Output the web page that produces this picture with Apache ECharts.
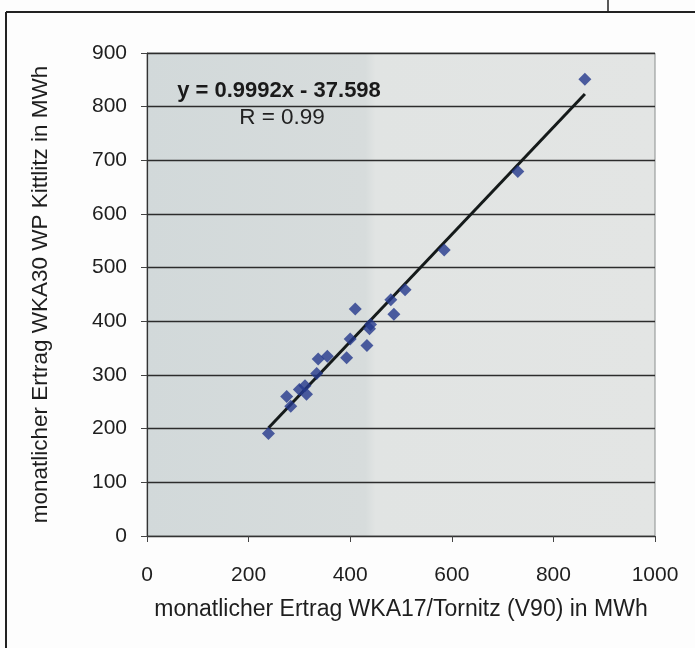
<!DOCTYPE html>
<html>
<head>
<meta charset="utf-8">
<script src="https://cdn.jsdelivr.net/npm/echarts@6/dist/echarts.min.js"></script>
<style>
html,body{margin:0;padding:0;background:#fdfdfd;}
#chart{width:695px;height:648px;}
</style>
</head>
<body>
<div id="chart"></div>
<script>
// monthly yield WKA17/Tornitz (x) vs WKA30 WP Kittlitz (y), MWh
var xValues = [239, 283, 275, 300, 311, 314, 334, 337, 355, 393, 400, 410, 433, 438, 440, 480, 486, 508, 585, 730, 862];
var yValues = [191, 242, 260, 273, 280, 264, 303, 330, 335, 332, 367, 423, 355, 386, 394, 440, 413, 459, 533, 679, 851];
var slope = 0.9992;
var intercept = -37.598;
var rValue = 0.99;
var xAxisTitle = 'monatlicher Ertrag WKA17/Tornitz (V90) in MWh';
var yAxisTitle = 'monatlicher Ertrag WKA30 WP Kittlitz in MWh';

var points = xValues.map(function (x, i) { return [x, yValues[i]]; });
var xMin = Math.min.apply(null, xValues), xMax = Math.max.apply(null, xValues);
var trend = [[xMin, slope * xMin + intercept], [xMax, slope * xMax + intercept]];

var chart = echarts.init(document.getElementById('chart'), null, {renderer: 'canvas'});
var font = 'Liberation Sans, Arial, sans-serif';
chart.setOption({
  backgroundColor: '#fdfdfd',
  animation: false,
  grid: {
    left: 147, top: 53, width: 508, height: 483,
    show: true,
    borderColor: '#8a8e8e', borderWidth: 1,
    backgroundColor: new echarts.graphic.LinearGradient(0, 0, 1, 0, [
      {offset: 0, color: '#d2d9da'},
      {offset: 0.43, color: '#d7dcdc'},
      {offset: 0.45, color: '#e1e4e3'},
      {offset: 1, color: '#e3e5e4'}
    ])
  },
  xAxis: {
    type: 'value', min: 0, max: 1000, interval: 200,
    name: xAxisTitle, nameLocation: 'middle', nameGap: 62,
    nameTextStyle: {fontFamily: font, fontSize: 23, color: '#1e1e1e'},
    axisLine: {show: true, onZero: false, lineStyle: {color: '#333', width: 1.2}},
    axisTick: {show: true, length: 6, lineStyle: {color: '#444'}},
    axisLabel: {fontFamily: font, fontSize: 21, color: '#1e1e1e', margin: 29,
      formatter: function (v) { return String(v); }},
    splitLine: {show: false}
  },
  yAxis: {
    type: 'value', min: 0, max: 900, interval: 100,
    name: yAxisTitle, nameLocation: 'middle', nameGap: 95, nameRotate: 90,
    nameTextStyle: {fontFamily: font, fontSize: 22.5, color: '#1e1e1e'},
    axisLine: {show: true, onZero: false, lineStyle: {color: '#333', width: 1.2}},
    axisTick: {show: true, length: 6, lineStyle: {color: '#444'}},
    axisLabel: {fontFamily: font, fontSize: 21, color: '#1e1e1e', margin: 20,
      formatter: function (v) { return String(v); }},
    splitLine: {show: true, lineStyle: {color: '#2c2c2c', width: 1.3}}
  },
  series: [
    {
      type: 'line', data: trend, symbol: 'none', silent: true,
      lineStyle: {color: '#151a1a', width: 3}, z: 2
    },
    {
      type: 'scatter', data: points, symbol: 'diamond', symbolSize: [13, 13],
      itemStyle: {color: '#24388c'}, z: 3
    }
  ],
  graphic: [
    {type: 'line', shape: {x1: 6, y1: 12, x2: 695, y2: 12}, style: {stroke: '#222', lineWidth: 2}},
    {type: 'line', shape: {x1: 6, y1: 12, x2: 6, y2: 648}, style: {stroke: '#222', lineWidth: 2}},
    {type: 'line', shape: {x1: 608, y1: 0, x2: 608, y2: 12}, style: {stroke: '#222', lineWidth: 1.5}},
    {type: 'text', x: 279, y: 91, style: {
      text: 'y = 0.9992x - 37.598', font: 'bold 22px ' + font, fill: '#1a1a1a',
      textAlign: 'center', textVerticalAlign: 'middle'}},
    {type: 'text', x: 282, y: 118, style: {
      text: 'R = ' + rValue.toFixed(2), font: '22.5px ' + font, fill: '#222',
      textAlign: 'center', textVerticalAlign: 'middle'}}
  ]
});
</script>
</body>
</html>
